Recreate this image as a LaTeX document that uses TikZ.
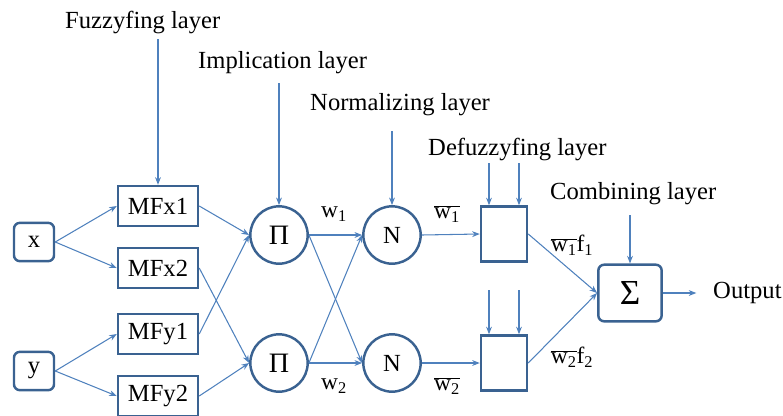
\documentclass[tikz,border=0pt]{standalone}
\usepackage{fontspec}
\setmainfont{Liberation Serif}
\usepackage{tikz}
\usetikzlibrary{arrows.meta,calc}
\definecolor{boxblue}{RGB}{58,98,145}
\definecolor{lineblue}{RGB}{79,129,189}

\tikzset{
  feed/.style={draw=lineblue, line width=0.9pt, -{Stealth[length=6.5pt,width=5pt]}},
  layer/.style={inner sep=0pt, anchor=base west},
  mfbox/.style={draw=boxblue, line width=2.1pt, minimum width=2.4cm, minimum height=1.2cm, inner sep=0pt},
  inbox/.style={draw=boxblue, line width=2.1pt, rounded corners=5pt, minimum width=1.2cm, minimum height=1.15cm, inner sep=0pt},
  rule/.style={draw=boxblue, line width=2.1pt, circle, minimum size=1.72cm, inner sep=0pt},
  defbox/.style={draw=boxblue, line width=2.1pt, minimum width=1.38cm, minimum height=1.65cm, inner sep=0pt},
  lab/.style={inner sep=0pt, font=\fontsize{20}{24}\selectfont}
}

\begin{document}
\begin{tikzpicture}[x=0.03cm, y=-0.03cm, every node/.style={font=\fontsize{21}{25}\selectfont}]
\useasboundingbox (0,0) rectangle (783,415);

% layer titles
\node[layer] (fuzz) at (65,28) {Fuzzyfing layer};
\node[layer] (impl) at (198,68) {Implication layer};
\node[layer] (norm) at (310,110) {Normalizing layer};
\node[layer] (defz) at (428,155) {Defuzzyfing layer};
\node[layer] (comb) at (550,199) {Combining layer};

% inputs
\node[inbox] (x) at (34,242) {x};
\node[inbox] (y) at (34,371) {y};

% membership functions
\node[mfbox] (mfx1) at (158,206) {MFx1};
\node[mfbox] (mfx2) at (158,268) {MFx2};
\node[mfbox] (mfy1) at (158,334) {MFy1};
\node[mfbox] (mfy2) at (158,396) {MFy2};

% rules and normalization
\node[rule, font=\fontsize{24}{28}\selectfont] (p1) at (279,235) {Π};
\node[rule, font=\fontsize{24}{28}\selectfont] (p2) at (279,363) {Π};
\node[rule] (n1) at (392,235) {N};
\node[rule] (n2) at (392,363) {N};

% defuzzification and sum
\node[defbox] (d1) at (504,234) {};
\node[defbox] (d2) at (504,363) {};
\node[inbox, minimum width=1.9cm, minimum height=1.7cm, font=\fontsize{30}{34}\selectfont] (sum) at (630,293) {Σ};
\node[inner sep=0pt, anchor=west] (out) at (713,293) {Output};

% free ends of the layer arrows
\coordinate (c1) at (mfx1.north |- 0,39);
\coordinate (c2) at (p1.north |- 0,83);
\coordinate (c3) at (n1.north |- 0,131);
\coordinate (c4) at ($(d1.north)+(-15,0)$);
\coordinate (c5) at ($(d1.north)+(15,0)$);
\coordinate (c6) at ($(d2.north)+(-15,0)$);
\coordinate (c7) at ($(d2.north)+(15,0)$);
\coordinate (c8) at (sum.north |- 0,215);

\draw[feed] (c1) -- (mfx1.north);
\draw[feed] (c2) -- (p1.north);
\draw[feed] (c3) -- (n1.north);
\draw[feed] (c4 |- 0,163) -- (c4);
\draw[feed] (c5 |- 0,163) -- (c5);
\draw[feed] (c6 |- 0,290) -- (c6);
\draw[feed] (c7 |- 0,290) -- (c7);
\draw[feed] (c8) -- (sum.north);

% network
\draw[feed] (x.east) -- (mfx1.west);
\draw[feed] (x.east) -- (mfx2.west);
\draw[feed] (y.east) -- (mfy1.west);
\draw[feed] (y.east) -- (mfy2.west);

\draw[feed] (mfx1.east) -- (p1.west);
\draw[feed] (mfy1.east) -- (p1.west);
\draw[feed] (mfx2.east) -- (p2.west);
\draw[feed] (mfy2.east) -- (p2.west);

\draw[feed] (p1.east) -- (n1.west);
\draw[feed] (p1.east) -- (n2.west);
\draw[feed] (p2.east) -- (n1.west);
\draw[feed] (p2.east) -- (n2.west);

\draw[feed] (n1.east) -- (d1.west);
\draw[feed] (n2.east) -- (d2.west);

\draw[feed] (d1.east) -- (sum.west);
\draw[feed] (d2.east) -- (sum.west);
\draw[feed, shorten >=0.5cm] (sum.east) -- (out.west);

% signal labels
\node[lab] (w1) at (334,214) {w\textsubscript{1}};
\node[lab] (w2) at (334,386) {w\textsubscript{2}};
\node[lab] (wb1) at (447,214) {$\overline{\hbox{w\textsubscript{1}}}$};
\node[lab] (wb2) at (447,386) {$\overline{\hbox{w\textsubscript{2}}}$};
\node[lab] (wf1) at (572,245) {$\overline{\hbox{w\textsubscript{1}}}$f\textsubscript{1}};
\node[lab] (wf2) at (572,357) {$\overline{\hbox{w\textsubscript{2}}}$f\textsubscript{2}};

\end{tikzpicture}
\end{document}
